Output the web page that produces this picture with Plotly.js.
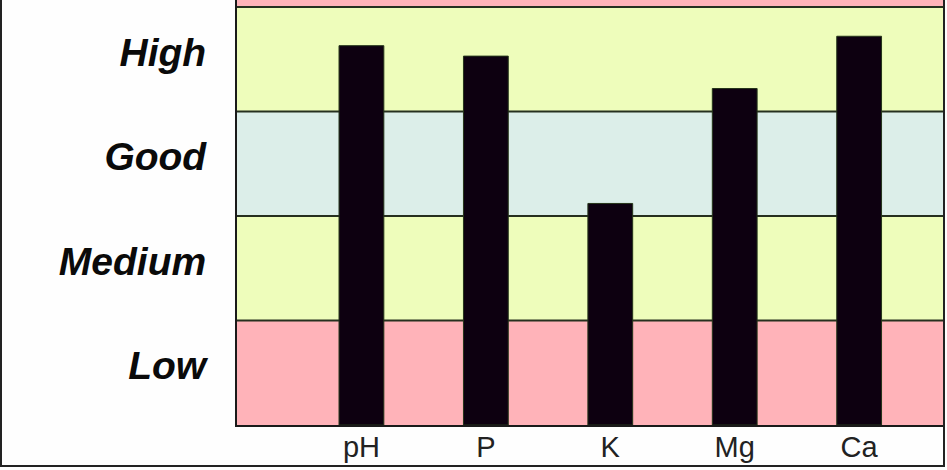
<!DOCTYPE html>
<html><head><meta charset="utf-8">
<script src="https://cdn.plot.ly/plotly-3.0.1.min.js"></script>
<style>
html,body{margin:0;padding:0;background:#fff;}
#wrap{position:relative;width:947px;height:470px;}
#chart{width:947px;height:470px;}
#frame{position:absolute;left:0;top:-2px;width:945px;height:469px;border:2px solid #222;border-top:none;box-sizing:border-box;pointer-events:none;}
</style>
</head><body>
<div id="wrap"><div id="chart"></div><div id="frame"></div></div>
<script>
const nutrients = ["pH", "P", "K", "Mg", "Ca"];
const levels = [3.63, 3.53, 2.12, 3.22, 3.72];
const levelNames = ["Low", "Medium", "Good", "High"];
const levelTicks = [0.57, 1.57, 2.57, 3.57];
const bandLows = [0, 1, 2, 3, 4];
const bandHighs = [1, 2, 3, 4, 4.2];
const bandColors = ["#ffb3b9", "#eefdbb", "#dceee9", "#eefdbb", "#ffb3b9"];

const shapes = bandLows.map((lo, i) => ({
  type: "rect", xref: "paper", yref: "y", x0: 0, x1: 1, y0: lo, y1: bandHighs[i],
  fillcolor: bandColors[i], line: {width: 0}, layer: "below"
}));
[1, 2, 3, 4].forEach(v => shapes.push({
  type: "line", xref: "paper", yref: "y", x0: 0, x1: 1, y0: v, y1: v,
  line: {color: "#26301f", width: 2}, layer: "below"
}));

const trace = {
  type: "bar", x: nutrients, y: levels, width: 0.36,
  marker: {color: "#0d0010", line: {color: "#25351a", width: 1}},
  hoverinfo: "x+y"
};

const layout = {
  width: 947, height: 470,
  margin: {l: 237, r: 2, t: 0, b: 45},
  paper_bgcolor: "#fefefe", plot_bgcolor: "#fefefe",
  showlegend: false,
  shapes: shapes,
  xaxis: {
    type: "category", range: [-1, 4.69], showgrid: false, zeroline: false,
    showline: true, linecolor: "#1a1a1a", linewidth: 2, ticks: "",
    tickfont: {family: "Liberation Sans, Arial, sans-serif", size: 29, color: "#222"},
    ticklabelstandoff: -5
  },
  yaxis: {
    range: [0, 4.067], showgrid: false, zeroline: false,
    showline: true, linecolor: "#1a1a1a", linewidth: 2, ticks: "",
    tickvals: levelTicks, ticktext: levelNames,
    tickfont: {family: "Liberation Sans, Arial, sans-serif", size: 39, color: "#0a0a0a", weight: "bold", style: "italic"},
    ticklabelstandoff: 21
  }
};

Plotly.newPlot("chart", [trace], layout, {displayModeBar: false, staticPlot: true});
</script>
</body></html>
